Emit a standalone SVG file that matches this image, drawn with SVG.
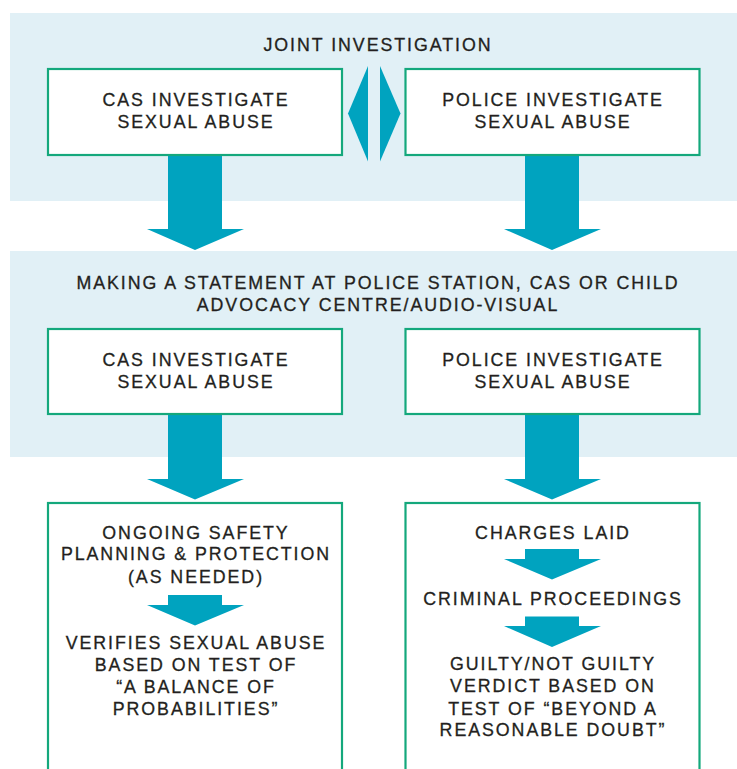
<svg xmlns="http://www.w3.org/2000/svg" width="737" height="769" viewBox="0 0 737 769">
<defs>
<style>
.panel{fill:#e1f0f6;}
.box{fill:#ffffff;stroke:#14a87c;stroke-width:2.2;}
.arr{fill:#00a3bf;}
text{font-family:"Liberation Sans",Arial,sans-serif;font-size:17.8px;letter-spacing:1.95px;fill:#231f20;stroke:#231f20;stroke-width:0.3px;text-anchor:middle;}
</style>
</defs>
<rect width="737" height="769" fill="#ffffff"/>
<g id="panel-joint">
<rect class="panel" x="10" y="13" width="727" height="188"/>
<text x="378" y="51">JOINT INVESTIGATION</text>
</g>
<g id="panel-statement">
<rect class="panel" x="10" y="251" width="727" height="206"/>
<text x="378" y="289">MAKING A STATEMENT AT POLICE STATION, CAS OR CHILD</text>
<text x="378" y="310.5">ADVOCACY CENTRE/AUDIO-VISUAL</text>
</g>
<g id="connectors">
<polygon class="arr" points="368,66 348,113.5 368,161.5"/>
<polygon class="arr" points="380,66 400.5,113.5 380,161.5"/>
<polygon class="arr" points="168,155 222,155 222,229 244,229 195,250 147,229 168,229"/>
<polygon class="arr" points="525,155 579,155 579,229 601,229 552,250 504,229 525,229"/>
<polygon class="arr" points="168,414 222,414 222,479 244,479 195,499.5 147,479 168,479"/>
<polygon class="arr" points="525,414 579,414 579,479 601,479 552,499.5 504,479 525,479"/>
</g>
<g id="cas1">
<rect class="box" x="48" y="69" width="294" height="86"/>
<text x="196" y="106.3">CAS INVESTIGATE</text>
<text x="196" y="128">SEXUAL ABUSE</text>
</g>
<g id="police1">
<rect class="box" x="405.5" y="69" width="294" height="86"/>
<text x="553" y="106.3">POLICE INVESTIGATE</text>
<text x="553" y="128">SEXUAL ABUSE</text>
</g>
<g id="cas2">
<rect class="box" x="48" y="329" width="294" height="85"/>
<text x="196" y="365.6">CAS INVESTIGATE</text>
<text x="196" y="387.6">SEXUAL ABUSE</text>
</g>
<g id="police2">
<rect class="box" x="405.5" y="329" width="294" height="85"/>
<text x="553" y="365.6">POLICE INVESTIGATE</text>
<text x="553" y="387.6">SEXUAL ABUSE</text>
</g>
<g id="cas-outcome">
<rect class="box" x="48" y="503" width="294" height="290"/>
<text x="196" y="539">ONGOING SAFETY</text>
<text x="196" y="560.3">PLANNING &amp; PROTECTION</text>
<text x="196" y="583">(AS NEEDED)</text>
<polygon class="arr" points="168,595 222,595 222,605 244,605 195,625.5 147,605 168,605"/>
<text x="196" y="649">VERIFIES SEXUAL ABUSE</text>
<text x="196" y="670.6">BASED ON TEST OF</text>
<text x="196" y="693">“A BALANCE OF</text>
<text x="196" y="714.6">PROBABILITIES”</text>
</g>
<g id="police-outcome">
<rect class="box" x="405.5" y="503" width="294" height="290"/>
<text x="553" y="539">CHARGES LAID</text>
<polygon class="arr" points="525,549 579,549 579,559 601,559 552,579.5 504,559 525,559"/>
<text x="553" y="604.6">CRIMINAL PROCEEDINGS</text>
<polygon class="arr" points="525,616.5 579,616.5 579,626 601,626 552,647 504,626 525,626"/>
<text x="553" y="670.3">GUILTY/NOT GUILTY</text>
<text x="553" y="692.3">VERDICT BASED ON</text>
<text x="553" y="714.6">TEST OF “BEYOND A</text>
<text x="553" y="736.3">REASONABLE DOUBT”</text>
</g>
</svg>
